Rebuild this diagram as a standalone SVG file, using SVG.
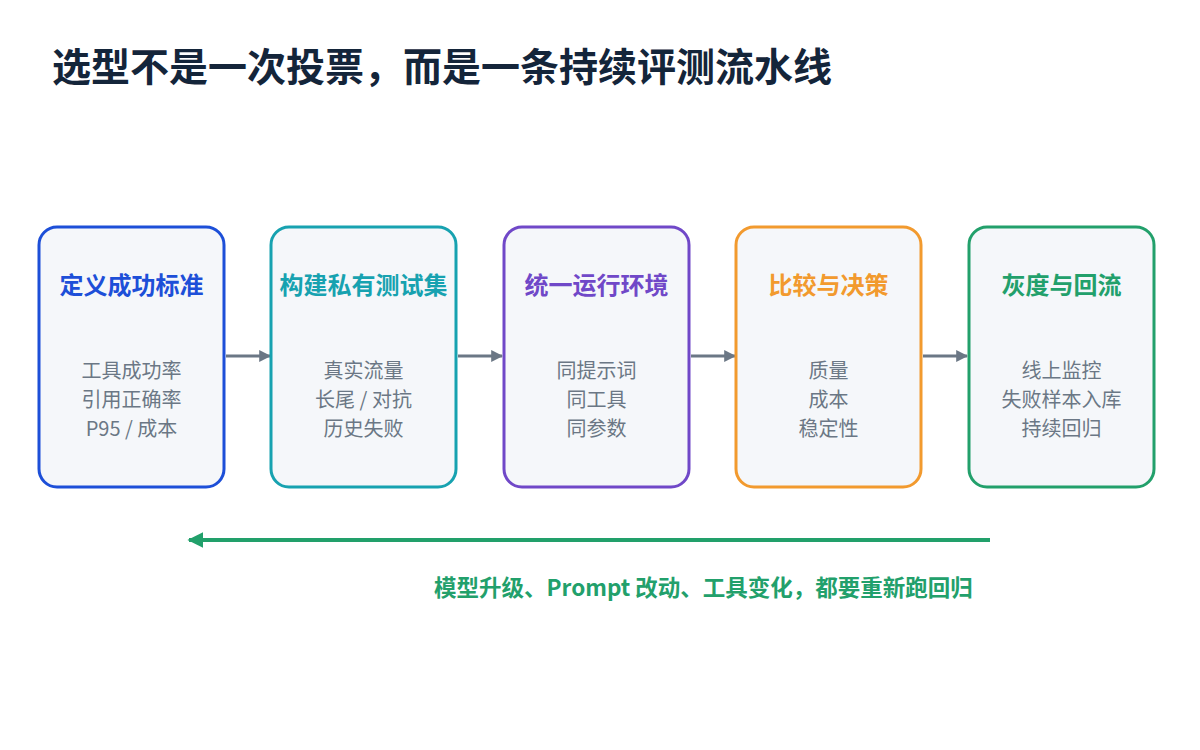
<svg xmlns="http://www.w3.org/2000/svg" width="1200" height="750" viewBox="0 0 1200 750">
<style>
text{font-family:"Noto Sans CJK SC","Noto Sans",sans-serif}
.box{fill:#f5f7fa;stroke-width:3}
.t{font-size:24px;font-weight:700;text-anchor:middle}
.b{font-size:20px;fill:#6b7785;text-anchor:middle}
.c{stroke:#6b7785;stroke-width:3;fill:none}
</style>
<defs>
<marker id="ah" viewBox="0 0 10 10" refX="9" refY="5" markerWidth="4" markerHeight="4" orient="auto"><path d="M0,0L10,5L0,10z" fill="#6b7785"/></marker>
<marker id="ag" viewBox="0 0 10 10" refX="9" refY="5" markerWidth="4" markerHeight="4" orient="auto"><path d="M0,0L10,5L0,10z" fill="#22a06b"/></marker>
</defs>
<rect width="1200" height="750" fill="#fff"/>
<text x="52" y="81" font-size="39" font-weight="700" fill="#14253a">选型不是一次投票，而是一条持续评测流水线</text>
<g id="connectors">
<line class="c" x1="226" y1="356" x2="270" y2="356" marker-end="url(#ah)"/>
<line class="c" x1="458" y1="356" x2="502" y2="356" marker-end="url(#ah)"/>
<line class="c" x1="691" y1="356" x2="735" y2="356" marker-end="url(#ah)"/>
<line class="c" x1="923" y1="356" x2="967" y2="356" marker-end="url(#ah)"/>
<line x1="990" y1="540" x2="189" y2="540" stroke="#22a06b" stroke-width="4" marker-end="url(#ag)"/>
</g>
<g id="n1"><rect class="box" x="39" y="227" width="185" height="260" rx="18" stroke="#1d4fd8"/>
<text class="t" x="131.5" y="294" fill="#1d4fd8">定义成功标准</text>
<text class="b" x="131.5" y="378">工具成功率</text><text class="b" x="131.5" y="407">引用正确率</text><text class="b" x="131.5" y="436">P95 / 成本</text></g>
<g id="n2"><rect class="box" x="271" y="227" width="185" height="260" rx="18" stroke="#17a2b0"/>
<text class="t" x="363.5" y="294" fill="#17a2b0">构建私有测试集</text>
<text class="b" x="363.5" y="378">真实流量</text><text class="b" x="363.5" y="407">长尾 / 对抗</text><text class="b" x="363.5" y="436">历史失败</text></g>
<g id="n3"><rect class="box" x="504" y="227" width="185" height="260" rx="18" stroke="#7048c8"/>
<text class="t" x="596.5" y="294" fill="#7048c8">统一运行环境</text>
<text class="b" x="596.5" y="378">同提示词</text><text class="b" x="596.5" y="407">同工具</text><text class="b" x="596.5" y="436">同参数</text></g>
<g id="n4"><rect class="box" x="736" y="227" width="185" height="260" rx="18" stroke="#f29a2e"/>
<text class="t" x="828.5" y="294" fill="#f29a2e">比较与决策</text>
<text class="b" x="828.5" y="378">质量</text><text class="b" x="828.5" y="407">成本</text><text class="b" x="828.5" y="436">稳定性</text></g>
<g id="n5"><rect class="box" x="969" y="227" width="185" height="260" rx="18" stroke="#22a06b"/>
<text class="t" x="1061.5" y="294" fill="#22a06b">灰度与回流</text>
<text class="b" x="1061.5" y="378">线上监控</text><text class="b" x="1061.5" y="407">失败样本入库</text><text class="b" x="1061.5" y="436">持续回归</text></g>
<text x="703.5" y="596" font-size="22.5" font-weight="700" fill="#22a06b" text-anchor="middle">模型升级、Prompt 改动、工具变化，都要重新跑回归</text>
</svg>
